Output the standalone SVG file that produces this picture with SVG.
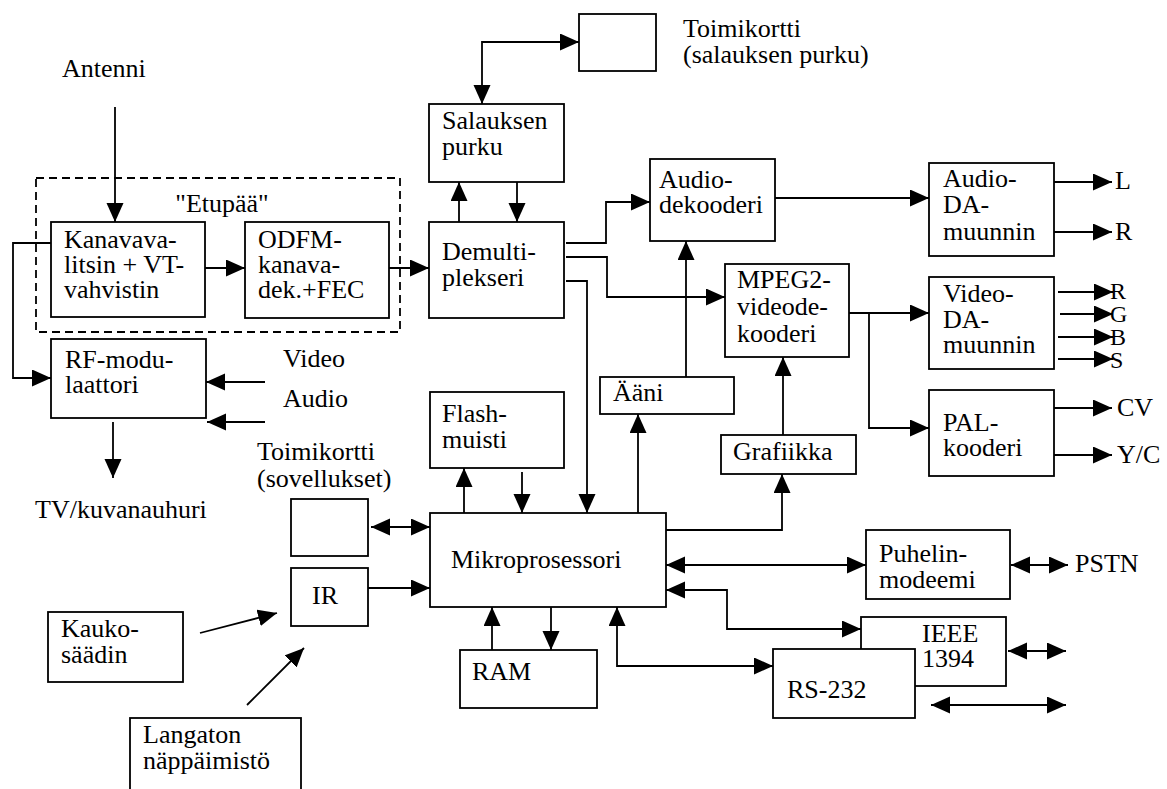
<svg xmlns="http://www.w3.org/2000/svg" width="1167" height="789" viewBox="0 0 1167 789" font-family="'Liberation Serif', 'DejaVu Serif', 'Times New Roman', serif">
<style>
text{font-family:'Liberation Serif','DejaVu Serif','Times New Roman',serif;font-size:26px;fill:#000}
.box{fill:#fff;stroke:#000;stroke-width:1.8}
.dash{fill:none;stroke:#000;stroke-width:1.8;stroke-dasharray:8 5}
.c{fill:none;stroke:#000;stroke-width:1.8}
.a{marker-end:url(#ah)}
.d{marker-start:url(#ah);marker-end:url(#ah)}
.sm{font-size:24px}
</style>
<defs>
<marker id="ah" markerUnits="userSpaceOnUse" markerWidth="20" markerHeight="18" refX="19" refY="8.5" orient="auto-start-reverse" viewBox="0 0 20 18">
<path d="M0,0 L19,8.5 L0,17 z" fill="#000"/>
</marker>
</defs>
<rect width="1167" height="789" fill="#fff"/>
<g id="etupaa">
<rect class="dash" x="36" y="178" width="364" height="154"/>
<text x="222" y="212" text-anchor="middle">"Etupää"</text>
</g>
<g id="connectors">
<path class="c a" d="M115,107 V222"/>
<path class="c a" d="M205,268 H245"/>
<path class="c a" d="M389,268 H429"/>
<path class="c a" d="M51,243 H13 V378 H51"/>
<path class="c a" d="M265,382 H206"/>
<path class="c a" d="M265,422 H207"/>
<path class="c a" d="M113,422 V478"/>
<path class="c d" d="M482,104 V42 H579"/>
<path class="c a" d="M459,222 V182"/>
<path class="c a" d="M517,182 V222"/>
<path class="c a" d="M566,243 H606 V202 H650"/>
<path class="c a" d="M566,257 H607 V297 H725"/>
<path class="c a" d="M566,281 H587 V513"/>
<path class="c a" d="M686,377 V241"/>
<path class="c a" d="M775,198 H929"/>
<path class="c a" d="M1054,182 H1112"/>
<path class="c a" d="M1053,232 H1112"/>
<path class="c a" d="M849,313 H929"/>
<path class="c a" d="M869,313 V428 H929"/>
<path class="c a" d="M1058,292 H1113"/>
<path class="c a" d="M1060,314 H1113"/>
<path class="c a" d="M1058,337 H1113"/>
<path class="c a" d="M1058,359 H1113"/>
<path class="c a" d="M1054,408 H1112"/>
<path class="c a" d="M1054,455 H1112"/>
<path class="c a" d="M783,435 V357"/>
<path class="c a" d="M666,530 H782 V474"/>
<path class="c a" d="M638,513 V414"/>
<path class="c a" d="M464,513 V468"/>
<path class="c a" d="M522,472 V513"/>
<path class="c d" d="M371,527 H430"/>
<path class="c a" d="M368,588 H430"/>
<path class="c a" d="M200,633 L277,613"/>
<path class="c a" d="M247,705 L304,648"/>
<path class="c d" d="M666,565 H866"/>
<path class="c d" d="M1011,565 H1068"/>
<path class="c d" d="M666,590 H727 V629 H861"/>
<path class="c d" d="M1008,651 H1066"/>
<path class="c a" d="M492,650 V607"/>
<path class="c a" d="M551,607 V650"/>
<path class="c d" d="M617,607 V666 H773"/>
<path class="c d" d="M931,705 H1066"/>
</g>
<g id="antenni"><text x="62" y="77">Antenni</text></g>
<g id="kanava"><rect class="box" x="51" y="222" width="154" height="95"/><text x="64" y="248">Kanavava-</text><text x="64" y="273">litsin + VT-</text><text x="64" y="298">vahvistin</text></g>
<g id="odfm"><rect class="box" x="245" y="222" width="144" height="96"/><text x="258" y="248">ODFM-</text><text x="258" y="273">kanava-</text><text x="258" y="298">dek.+FEC</text></g>
<g id="demux"><rect class="box" x="429" y="222" width="135" height="96"/><text x="442" y="260">Demulti-</text><text x="442" y="286">plekseri</text></g>
<g id="salaus"><rect class="box" x="429" y="104" width="135" height="78"/><text x="442" y="129">Salauksen</text><text x="442" y="155">purku</text></g>
<g id="toimikortti1"><rect class="box" x="579" y="14" width="77" height="57"/><text x="683" y="37">Toimikortti</text><text x="683" y="63">(salauksen purku)</text></g>
<g id="audiodek"><rect class="box" x="650" y="159" width="125" height="82"/><text x="659" y="188">Audio-</text><text x="659" y="213">dekooderi</text></g>
<g id="mpeg"><rect class="box" x="725" y="264" width="124" height="93"/><text x="737" y="288">MPEG2-</text><text x="737" y="315">videode-</text><text x="737" y="342">kooderi</text></g>
<g id="audioda"><rect class="box" x="929" y="163" width="125" height="93"/><text x="943" y="187">Audio-</text><text x="943" y="213">DA-</text><text x="943" y="240">muunnin</text></g>
<g id="videoda"><rect class="box" x="929" y="277" width="125" height="92"/><text x="943" y="302">Video-</text><text x="943" y="328">DA-</text><text x="943" y="353">muunnin</text></g>
<g id="pal"><rect class="box" x="929" y="390" width="125" height="86"/><text x="943" y="431">PAL-</text><text x="943" y="456">kooderi</text></g>
<g id="outputs"><text x="1115" y="189">L</text><text x="1115" y="240">R</text><text class="sm" x="1110" y="299">R</text><text class="sm" x="1110" y="322">G</text><text class="sm" x="1110" y="345">B</text><text class="sm" x="1110" y="368">S</text><text x="1117" y="416">CV</text><text x="1117" y="463">Y/C</text></g>
<g id="aani"><rect class="box" x="600" y="377" width="134" height="37"/><text x="613" y="401">Ääni</text></g>
<g id="grafiikka"><rect class="box" x="721" y="435" width="135" height="39"/><text x="733" y="460">Grafiikka</text></g>
<g id="flash"><rect class="box" x="430" y="392" width="134" height="76"/><text x="442" y="422">Flash-</text><text x="442" y="448">muisti</text></g>
<g id="mikro"><rect class="box" x="430" y="513" width="236" height="94"/><text x="451" y="568">Mikroprosessori</text></g>
<g id="rfmod"><rect class="box" x="51" y="339" width="155" height="79"/><text x="65" y="368">RF-modu-</text><text x="65" y="393">laattori</text></g>
<g id="videoaudio"><text x="283" y="367">Video</text><text x="283" y="407">Audio</text></g>
<g id="tv"><text x="35" y="518">TV/kuvanauhuri</text></g>
<g id="toimikortti2"><text x="257" y="460">Toimikortti</text><text x="257" y="487">(sovellukset)</text><rect class="box" x="291" y="499" width="77" height="57"/></g>
<g id="ir"><rect class="box" x="291" y="568" width="77" height="58"/><text x="312" y="604">IR</text></g>
<g id="kauko"><rect class="box" x="48" y="612" width="135" height="70"/><text x="61" y="637">Kauko-</text><text x="61" y="663">säädin</text></g>
<g id="langaton"><rect class="box" x="130" y="718" width="171" height="80"/><text x="143" y="743">Langaton</text><text x="143" y="769">näppäimistö</text></g>
<g id="ram"><rect class="box" x="460" y="650" width="137" height="58"/><text x="472" y="680">RAM</text></g>
<g id="puhelin"><rect class="box" x="866" y="530" width="144" height="69"/><text x="879" y="562">Puhelin-</text><text x="879" y="588">modeemi</text></g>
<g id="pstn"><text x="1075" y="572">PSTN</text></g>
<g id="ieee"><rect class="box" x="861" y="617" width="145" height="69"/><text x="922" y="642">IEEE</text><text x="922" y="667">1394</text></g>
<g id="rs232"><rect class="box" x="773" y="649" width="142" height="69"/><text x="787" y="698">RS-232</text></g>
</svg>
